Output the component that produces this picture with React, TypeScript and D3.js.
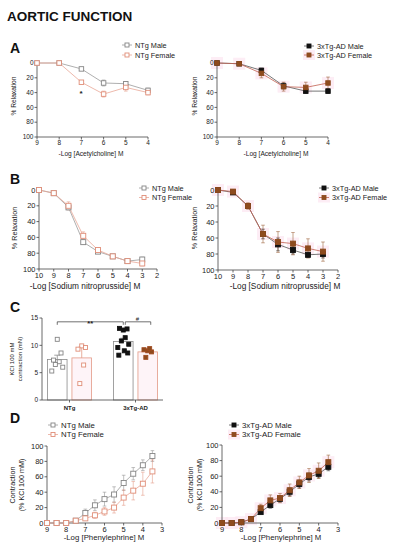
import React from 'react';
import * as d3 from 'd3';

const FONT = "'Liberation Sans', Arial, Helvetica, sans-serif";

// ---------- Panel A: Acetylcholine (% relaxation)
const achDoses = [9, 8, 7, 6, 5, 4];
const achNTgMale = [0, 0, 8, 27, 28, 37];
const achNTgMaleErr = [1, 1, 2, 4, 3, 3];
const achNTgFemale = [0, 0, 26, 42, 33, 40];
const achNTgFemaleErr = [1, 1, 2, 4, 5, 3];
const ach3xMale = [0, 1, 10, 31, 38, 38];
const ach3xMaleErr = [1, 1, 3, 4, 3, 3];
const ach3xFemale = [0, 1, 14, 32, 33, 27];
const ach3xFemaleErr = [1, 1, 6, 6, 7, 8];
const achTicks = [9, 8, 7, 6, 5, 4];

// ---------- Panel B: Sodium nitroprusside (% relaxation)
const snpDoses = [10, 9, 8, 7, 6, 5, 4, 3];
const snpNTgMale = [0, 4, 22, 66, 78, 84, 90, 88];
const snpNTgMaleErr = [1, 2, 3, 3, 2, 2, 2, 3];
const snpNTgFemale = [0, 4, 20, 58, 76, 84, 90, 93];
const snpNTgFemaleErr = [1, 2, 5, 5, 3, 2, 2, 3];
const snp3xMale = [0, 3, 20, 55, 68, 75, 81, 80];
const snp3xMaleErr = [1, 2, 3, 6, 8, 5, 3, 5];
const snp3xFemale = [0, 2, 20, 55, 65, 67, 73, 77];
const snp3xFemaleErr = [1, 2, 4, 11, 13, 14, 12, 12];
const snpTicks = [10, 9, 8, 7, 6, 5, 4, 3, 2];

// ---------- Panel C: KCl contraction (mN)
const kclGroups = ['NTg', '3xTg-AD'];
const kclSexes = ['Male', 'Female'];
const kclMeans = [[7.4, 7.7], [10.7, 8.8]];
const kclSem = [[0.8, 2.0], [0.6, 0.3]];
const kclNTgMalePts = [11.1, 8.6, 7.3, 7.0, 6.5, 6.0, 5.3];
const kclNTgFemalePts = [9.9, 9.6, 9.3, 6.4, 3.0];
const kcl3xMalePts = [12.8, 13.0, 13.1, 11.4, 10.8, 10.2, 9.6, 9.0, 8.2, 8.6];
const kcl3xFemalePts = [9.0, 8.8, 9.2, 9.4, 7.8];
const kclTicks = [0, 5, 10, 15];

// ---------- Panel D: Phenylephrine (% KCl)
const peDoses = [9, 8.5, 8, 7.5, 7, 6.5, 6, 5.5, 5, 4.5, 4, 3.5];
const peNTgMale = [0, 0, 0, 3, 13, 23, 31, 37, 52, 64, 75, 87];
const peNTgMaleErr = [0, 0, 1, 2, 5, 7, 9, 10, 10, 8, 7, 7];
const peNTgFemale = [0, 0, 0, 3, 6, 10, 15, 20, 33, 42, 51, 67];
const peNTgFemaleErr = [0, 0, 1, 1, 3, 4, 5, 7, 10, 12, 15, 15];
const pe3xMale = [0, 0, 1, 5, 14, 23, 31, 40, 50, 59, 63, 72];
const pe3xMaleErr = [0, 0, 1, 1, 2, 4, 4, 5, 5, 5, 5, 5];
const pe3xFemale = [0, 0, 1, 5, 19, 29, 32, 42, 52, 61, 67, 78];
const pe3xFemaleErr = [0, 0, 1, 1, 5, 7, 6, 8, 8, 9, 10, 9];
const peTicks = [9, 8, 7, 6, 5, 4, 3];

const pctTicks = [0, 20, 40, 60, 80, 100];

type Kind = 'ntgM' | 'ntgF' | 'x3M' | 'x3F';
const STYLES: Record<Kind, { stroke: string; fill: string; line: string }> = {
  ntgM: { stroke: '#858585', fill: '#ffffff', line: '#9a9a9a' },
  ntgF: { stroke: '#e08e78', fill: '#ffffff', line: '#e9a797' },
  x3M: { stroke: '#111111', fill: '#111111', line: '#555555' },
  x3F: { stroke: '#8e4b1e', fill: '#8e4b1e', line: '#c26050' },
};

const AXIS = '#444';
const HALO = '#fce6f1';

interface Series {
  x: number[];
  y: number[];
  e: number[];
  kind: Kind;
  label: string;
}

interface LineProps {
  xDomain: [number, number];
  xRange: [number, number];
  yRange: [number, number];
  xTicks: number[];
  series: Series[];
  tickFont: number;
  marker: number;
  legendX: number;
  legendY: number;
  legendGap: number;
  legendFont: number;
  xLabel: string;
  xLabelX: number;
  xLabelY: number;
  xLabelFont: number;
  yLabel: string[];
  yLabelX: number;
  yLabelY: number;
  yLabelFont: number;
}

function LinePanel(p: LineProps) {
  const xs = d3.scaleLinear().domain(p.xDomain).range(p.xRange);
  const ys = d3.scaleLinear().domain([0, 100]).range(p.yRange);
  const axisY = Math.max(p.yRange[0], p.yRange[1]);
  const x0 = p.xRange[0];
  const h = p.marker / 2;
  return (
    <g fontFamily={FONT}>
      {p.series
        .filter((s) => s.kind === 'x3F')
        .map((s, si) =>
          s.x.map((d, i) => (
            <rect
              key={`h${si}-${i}`}
              x={xs(d) - 6}
              y={ys(s.y[i]) - 6}
              width={12}
              height={12}
              fill={HALO}
              opacity={0.7}
            />
          ))
        )}
      <line x1={x0} x2={x0} y1={ys(0)} y2={ys(100)} stroke={AXIS} strokeWidth={0.8} />
      <line x1={p.xRange[0]} x2={p.xRange[1]} y1={axisY} y2={axisY} stroke={AXIS} strokeWidth={0.8} />
      {pctTicks.map((t) => (
        <g key={`yt${t}`}>
          <line x1={x0 - 2.5} x2={x0} y1={ys(t)} y2={ys(t)} stroke={AXIS} strokeWidth={0.8} />
          <text x={x0 - 3.5} y={ys(t) + p.tickFont * 0.35} fontSize={p.tickFont} textAnchor="end" fill="#222">
            {t}
          </text>
        </g>
      ))}
      {p.xTicks.map((t) => (
        <g key={`xt${t}`}>
          <line x1={xs(t)} x2={xs(t)} y1={axisY} y2={axisY + 2.5} stroke={AXIS} strokeWidth={0.8} />
          <text x={xs(t)} y={axisY + 3 + p.tickFont * 0.8} fontSize={p.tickFont} textAnchor="middle" fill="#222">
            {t}
          </text>
        </g>
      ))}
      <text x={p.xLabelX} y={p.xLabelY} fontSize={p.xLabelFont} textAnchor="middle" fill="#222">
        {p.xLabel}
      </text>
      {p.yLabel.map((l, i) => (
        <text
          key={`yl${i}`}
          transform={`translate(${p.yLabelX + i * (p.yLabelFont + 1.5)},${p.yLabelY}) rotate(-90)`}
          fontSize={p.yLabelFont}
          textAnchor="middle"
          fill="#222"
        >
          {l}
        </text>
      ))}
      {p.series.map((s, si) => {
        const path = d3
          .line<number>()
          .x((d) => xs(d))
          .y((_, i) => ys(s.y[i]))(s.x);
        return <path key={`l${si}`} d={path || ''} fill="none" stroke={STYLES[s.kind].line} strokeWidth={0.8} />;
      })}
      {p.series.map((s, si) =>
        s.x.map((d, i) => {
          const cx = xs(d);
          const lo = ys(s.y[i] - s.e[i]);
          const hi = ys(s.y[i] + s.e[i]);
          const c = STYLES[s.kind].stroke;
          return (
            <g key={`e${si}-${i}`} stroke={c} strokeWidth={0.6} opacity={0.85}>
              <line x1={cx} x2={cx} y1={lo} y2={hi} />
              <line x1={cx - 1.8} x2={cx + 1.8} y1={lo} y2={lo} />
              <line x1={cx - 1.8} x2={cx + 1.8} y1={hi} y2={hi} />
            </g>
          );
        })
      )}
      {p.series.map((s, si) =>
        s.x.map((d, i) => (
          <rect
            key={`m${si}-${i}`}
            x={xs(d) - h}
            y={ys(s.y[i]) - h}
            width={p.marker}
            height={p.marker}
            fill={STYLES[s.kind].fill}
            stroke={STYLES[s.kind].stroke}
            strokeWidth={0.9}
          />
        ))
      )}
      {p.series.map((s, si) => {
        const cy = p.legendY + si * p.legendGap;
        const st = STYLES[s.kind];
        return (
          <g key={`lg${si}`}>
            {s.kind === 'x3F' && (
              <rect x={p.legendX - 6} y={cy - 5} width={12} height={10} fill={HALO} opacity={0.7} />
            )}
            <line x1={p.legendX - 5} x2={p.legendX + 5} y1={cy} y2={cy} stroke={st.line} strokeWidth={0.8} />
            <rect x={p.legendX - 2} y={cy - 2} width={4} height={4} fill={st.fill} stroke={st.stroke} strokeWidth={0.9} />
            <text x={p.legendX + 8} y={cy + p.legendFont * 0.35} fontSize={p.legendFont} fill="#222">
              {s.label}
            </text>
          </g>
        );
      })}
    </g>
  );
}

function KclPanel() {
  const y = d3.scaleLinear().domain([0, 15]).range([400, 318]);
  const xg = d3.scaleBand<string>().domain(kclGroups).range([42, 163]).paddingInner(0.333).paddingOuter(0.083);
  const xs = d3.scaleBand<string>().domain(kclSexes).range([0, xg.bandwidth()]).paddingInner(0.2);
  const pts = [
    [kclNTgMalePts, kclNTgFemalePts],
    [kcl3xMalePts, kcl3xFemalePts],
  ];
  const kinds: Kind[][] = [
    ['ntgM', 'ntgF'],
    ['x3M', 'x3F'],
  ];
  const barStroke = ['#8a8a8a', '#e39a86'];
  const jit = [0, 0.55, -0.55, 0.28, -0.28, 0.8, -0.8, 0.15, -0.65, 0.65];
  const bw = xs.bandwidth();
  const center = (g: number, s: number) => (xg(kclGroups[g]) || 0) + (xs(kclSexes[s]) || 0) + bw / 2;
  const by = y(14.3);
  return (
    <g fontFamily={FONT}>
      {kclGroups.map((g, gi) =>
        kclSexes.map((s, si) => {
          const x = (xg(g) || 0) + (xs(s) || 0);
          const m = kclMeans[gi][si];
          const top = y(m + kclSem[gi][si]);
          return (
            <g key={`b${gi}${si}`}>
              <rect
                x={x}
                y={y(m)}
                width={bw}
                height={y(0) - y(m)}
                fill={si === 1 ? '#fef4f8' : '#fff'}
                stroke={barStroke[si]}
                strokeWidth={0.8}
              />
              <line x1={x + bw / 2} x2={x + bw / 2} y1={y(m)} y2={top} stroke={barStroke[si]} strokeWidth={0.8} />
              <line x1={x + bw / 2 - 3} x2={x + bw / 2 + 3} y1={top} y2={top} stroke={barStroke[si]} strokeWidth={0.8} />
            </g>
          );
        })
      )}
      {kclGroups.map((g, gi) =>
        kclSexes.map((s, si) =>
          pts[gi][si].map((v, i) => {
            const cx = center(gi, si) + jit[i % jit.length] * bw * 0.35;
            const st = STYLES[kinds[gi][si]];
            return (
              <rect
                key={`p${gi}${si}${i}`}
                x={cx - 2}
                y={y(v) - 2}
                width={4}
                height={4}
                fill={st.fill}
                stroke={kinds[gi][si] === 'x3F' ? '#a04a20' : st.stroke}
                strokeWidth={0.9}
              />
            );
          })
        )
      )}
      <line x1={42} x2={42} y1={y(0)} y2={y(15)} stroke={AXIS} strokeWidth={0.8} />
      <line x1={42} x2={163} y1={y(0)} y2={y(0)} stroke={AXIS} strokeWidth={0.8} />
      {kclTicks.map((t) => (
        <g key={`kt${t}`}>
          <line x1={39.5} x2={42} y1={y(t)} y2={y(t)} stroke={AXIS} strokeWidth={0.8} />
          <text x={38} y={y(t) + 2.3} fontSize={6.5} textAnchor="end" fill="#222">
            {t}
          </text>
        </g>
      ))}
      {kclGroups.map((g, gi) => (
        <g key={`kg${gi}`}>
          <line x1={(xg(g) || 0) + xg.bandwidth() / 2} x2={(xg(g) || 0) + xg.bandwidth() / 2} y1={y(0)} y2={y(0) + 2.5} stroke={AXIS} strokeWidth={0.8} />
          <text x={(xg(g) || 0) + xg.bandwidth() / 2} y={410} fontSize={6} fontWeight="bold" textAnchor="middle" fill="#222">
            {g}
          </text>
        </g>
      ))}
      <text transform="translate(14,359) rotate(-90)" fontSize={6} textAnchor="middle" fill="#222">
        KCl 100 mM
      </text>
      <text transform="translate(22,359) rotate(-90)" fontSize={6} textAnchor="middle" fill="#222">
        contraction (mN)
      </text>
      <g stroke="#333" strokeWidth={0.7} fill="none">
        <path d={`M${center(0, 0)},${by + 3}V${by}H${center(1, 0)}V${by + 3}`} />
        <path d={`M${center(1, 0) + 2},${by + 3}V${by}H${center(1, 1) + 3}V${by + 3}`} />
      </g>
      <text x={(center(0, 0) + center(1, 0)) / 2} y={by + 4.5} fontSize={7.5} fontWeight="bold" textAnchor="middle" fill="#222">
        **
      </text>
      <text x={(center(1, 0) + center(1, 1)) / 2 + 2} y={by - 1} fontSize={6} textAnchor="middle" fill="#222">
        #
      </text>
    </g>
  );
}

export default function App() {
  const panelLetter = (t: string, x: number, y: number) => (
    <text x={x} y={y} fontSize={14} fontWeight="bold" fontFamily={FONT} fill="#111">
      {t}
    </text>
  );
  return (
    <svg
      width={396}
      height={550}
      viewBox="0 0 396 550"
      style={{ position: 'absolute', left: 0, top: 0, background: '#fff' }}
    >
      <rect width={396} height={550} fill="#fff" />
      <text x={7} y={21} fontSize={13.5} fontWeight="bold" fontFamily={FONT} fill="#111">
        AORTIC FUNCTION
      </text>
      {panelLetter('A', 10, 53)}
      {panelLetter('B', 10, 184)}
      {panelLetter('C', 10, 312)}
      {panelLetter('D', 10, 423)}

      <LinePanel
        xDomain={[9, 4]}
        xRange={[37, 148]}
        yRange={[63, 137]}
        xTicks={achTicks}
        series={[
          { x: achDoses, y: achNTgMale, e: achNTgMaleErr, kind: 'ntgM', label: 'NTg Male' },
          { x: achDoses, y: achNTgFemale, e: achNTgFemaleErr, kind: 'ntgF', label: 'NTg Female' },
        ]}
        tickFont={6.5}
        marker={4.5}
        legendX={127}
        legendY={45}
        legendGap={10}
        legendFont={7.3}
        xLabel="-Log [Acetylcholine] M"
        xLabelX={91}
        xLabelY={156}
        xLabelFont={6.6}
        yLabel={['% Relaxation']}
        yLabelX={16}
        yLabelY={96}
        yLabelFont={6.6}
      />
      <text x={81} y={96} fontSize={8} fontWeight="bold" fontFamily={FONT} textAnchor="middle" fill="#222">
        *
      </text>
      <LinePanel
        xDomain={[9, 4]}
        xRange={[217, 328]}
        yRange={[63, 137]}
        xTicks={achTicks}
        series={[
          { x: achDoses, y: ach3xMale, e: ach3xMaleErr, kind: 'x3M', label: '3xTg-AD Male' },
          { x: achDoses, y: ach3xFemale, e: ach3xFemaleErr, kind: 'x3F', label: '3xTg-AD Female' },
        ]}
        tickFont={6.5}
        marker={4.5}
        legendX={309}
        legendY={46}
        legendGap={9}
        legendFont={7.3}
        xLabel="-Log [Acetylcholine] M"
        xLabelX={276}
        xLabelY={156}
        xLabelFont={6.6}
        yLabel={['% Relaxation']}
        yLabelX={197}
        yLabelY={96}
        yLabelFont={6.6}
      />

      <LinePanel
        xDomain={[10, 2]}
        xRange={[39, 157]}
        yRange={[190, 269]}
        xTicks={snpTicks}
        series={[
          { x: snpDoses, y: snpNTgMale, e: snpNTgMaleErr, kind: 'ntgM', label: 'NTg Male' },
          { x: snpDoses, y: snpNTgFemale, e: snpNTgFemaleErr, kind: 'ntgF', label: 'NTg Female' },
        ]}
        tickFont={7.5}
        marker={5}
        legendX={144}
        legendY={188}
        legendGap={9.5}
        legendFont={7.3}
        xLabel="-Log [Sodium nitroprusside] M"
        xLabelX={85}
        xLabelY={289}
        xLabelFont={8.3}
        yLabel={['% Relaxation']}
        yLabelX={17}
        yLabelY={228}
        yLabelFont={7.2}
      />
      <LinePanel
        xDomain={[10, 2]}
        xRange={[218, 338]}
        yRange={[190, 270]}
        xTicks={snpTicks}
        series={[
          { x: snpDoses, y: snp3xMale, e: snp3xMaleErr, kind: 'x3M', label: '3xTg-AD Male' },
          { x: snpDoses, y: snp3xFemale, e: snp3xFemaleErr, kind: 'x3F', label: '3xTg-AD Female' },
        ]}
        tickFont={7.5}
        marker={5}
        legendX={324}
        legendY={188}
        legendGap={9.5}
        legendFont={7.3}
        xLabel="-Log [Sodium nitroprusside] M"
        xLabelX={285}
        xLabelY={289}
        xLabelFont={8.3}
        yLabel={['% Relaxation']}
        yLabelX={197}
        yLabelY={228}
        yLabelFont={7.2}
      />

      <KclPanel />

      <LinePanel
        xDomain={[9, 3]}
        xRange={[47, 162]}
        yRange={[523, 446]}
        xTicks={peTicks}
        series={[
          { x: peDoses, y: peNTgMale, e: peNTgMaleErr, kind: 'ntgM', label: 'NTg Male' },
          { x: peDoses, y: peNTgFemale, e: peNTgFemaleErr, kind: 'ntgF', label: 'NTg Female' },
        ]}
        tickFont={7.5}
        marker={5}
        legendX={53}
        legendY={425}
        legendGap={9.5}
        legendFont={7.8}
        xLabel="-Log [Phenylephrine] M"
        xLabelX={104}
        xLabelY={540}
        xLabelFont={7.8}
        yLabel={['Contraction', '(% KCl 100 mM)']}
        yLabelX={15}
        yLabelY={485}
        yLabelFont={7.2}
      />
      <LinePanel
        xDomain={[9, 3]}
        xRange={[222, 338]}
        yRange={[523, 445]}
        xTicks={peTicks}
        series={[
          { x: peDoses, y: pe3xMale, e: pe3xMaleErr, kind: 'x3M', label: '3xTg-AD Male' },
          { x: peDoses, y: pe3xFemale, e: pe3xFemaleErr, kind: 'x3F', label: '3xTg-AD Female' },
        ]}
        tickFont={7.5}
        marker={5}
        legendX={234}
        legendY={425}
        legendGap={9.5}
        legendFont={7.8}
        xLabel="-Log [Phenylephrine] M"
        xLabelX={281}
        xLabelY={540}
        xLabelFont={7.8}
        yLabel={['Contraction', '(% KCl 100 mM)']}
        yLabelX={193}
        yLabelY={485}
        yLabelFont={7.2}
      />
    </svg>
  );
}
